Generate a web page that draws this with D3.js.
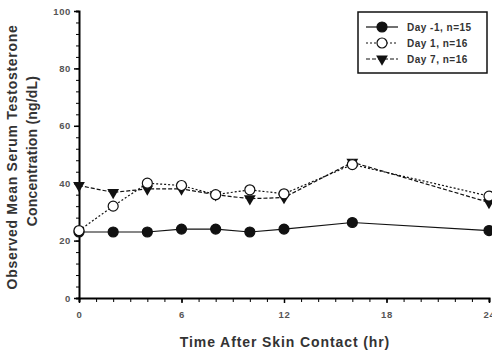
<!DOCTYPE html>
<html>
<head>
<meta charset="utf-8">
<script src="https://cdn.jsdelivr.net/npm/d3@7"></script>
<style>
  body { margin: 0; background: #fff; }
  text { font-family: "Liberation Sans", Arial, sans-serif; }
</style>
</head>
<body>
<div id="chart"></div>
<script>
// time points (hr)
const hours = [0, 2, 4, 6, 8, 10, 12, 16, 24];
const dayM1 = [23, 23, 23, 24, 24, 23, 24, 26.3, 23.5];
const day1 = [23.5, 32, 40, 39.2, 36, 37.7, 36.3, 46.5, 35.5];
const day7 = [39.2, 36.8, 38, 38, 36, 34.6, 35, 47.3, 33.3];
const seriesNames = ["Day -1, n=15", "Day 1, n=16", "Day 7, n=16"];
const xTicks = [0, 6, 12, 18, 24];
const yTicks = [0, 20, 40, 60, 80, 100];

const width = 492, height = 351;
const margin = { left: 79, right: 3, top: 11, bottom: 53 };

const svg = d3.select("#chart")
  .append("svg")
  .attr("width", width)
  .attr("height", height);

const x = d3.scaleLinear().domain([0, 24]).range([margin.left, width - margin.right]);
const y = d3.scaleLinear().domain([0, 100]).range([height - margin.bottom, margin.top]);

const tickText = g => g.selectAll("text")
  .attr("font-size", 9.5).attr("font-weight", "bold")
  .attr("letter-spacing", 0.6).attr("fill", "#555");

// x axis, minor ticks each hour
svg.append("g")
  .attr("transform", `translate(0,${height - margin.bottom})`)
  .call(d3.axisBottom(x).tickValues(d3.range(0, 25, 1)).tickSize(4).tickFormat(""))
  .call(g => g.select(".domain").attr("stroke-width", 2));
svg.append("g")
  .attr("transform", `translate(0,${height - margin.bottom})`)
  .call(d3.axisBottom(x).tickValues(xTicks).tickSize(5).tickPadding(8))
  .call(g => g.select(".domain").remove())
  .call(g => g.selectAll("line").attr("stroke-width", 1.5))
  .call(tickText);

// y axis, minor ticks every 4
svg.append("g")
  .attr("transform", `translate(${margin.left},0)`)
  .call(d3.axisLeft(y).tickValues(d3.range(0, 101, 4)).tickSize(3).tickFormat(""))
  .call(g => g.select(".domain").attr("stroke-width", 2));
svg.append("g")
  .attr("transform", `translate(${margin.left},0)`)
  .call(d3.axisLeft(y).tickValues(yTicks).tickSize(5).tickPadding(3))
  .call(g => g.select(".domain").remove())
  .call(g => g.selectAll("line").attr("stroke-width", 1.5))
  .call(tickText);

// axis titles
svg.append("text")
  .attr("x", 285).attr("y", 347)
  .attr("text-anchor", "middle")
  .attr("font-size", 14).attr("font-weight", "bold")
  .attr("letter-spacing", 0.9).attr("fill", "#333")
  .text("Time After Skin Contact (hr)");

svg.append("text")
  .attr("transform", "translate(17,157) rotate(-90)")
  .attr("text-anchor", "middle")
  .attr("font-size", 14).attr("font-weight", "bold")
  .attr("letter-spacing", 0.7).attr("fill", "#333")
  .text("Observed Mean Serum Testosterone");
svg.append("text")
  .attr("transform", "translate(37,151) rotate(-90)")
  .attr("text-anchor", "middle")
  .attr("font-size", 14).attr("font-weight", "bold")
  .attr("letter-spacing", 0.2).attr("fill", "#333")
  .text("Concentration (ng/dL)");

const line = d3.line().x(d => x(d[0])).y(d => y(d[1]));
const triangle = d3.symbol().type(d3.symbolTriangle).size(60);

const series = [
  { name: seriesNames[0], values: dayM1, dash: null, marker: "filled" },
  { name: seriesNames[1], values: day1, dash: "2,2", marker: "open" },
  { name: seriesNames[2], values: day7, dash: "4,2", marker: "tri" }
];

function drawMarker(g, type, cx, cy) {
  if (type === "tri") {
    g.append("path")
      .attr("d", triangle())
      .attr("transform", `translate(${cx},${cy}) rotate(180)`)
      .attr("fill", "#111");
  } else {
    g.append("circle")
      .attr("cx", cx).attr("cy", cy).attr("r", 5)
      .attr("fill", type === "filled" ? "#111" : "#fff")
      .attr("stroke", "#111").attr("stroke-width", 1.2);
  }
}

// draw lines first, then markers (open circles over)
[series[0], series[2], series[1]].forEach(s => {
  svg.append("path")
    .datum(hours.map((h, i) => [h, s.values[i]]))
    .attr("d", line)
    .attr("fill", "none")
    .attr("stroke", "#111")
    .attr("stroke-width", 1.2)
    .attr("stroke-dasharray", s.dash);
});
[series[0], series[2], series[1]].forEach(s => {
  const g = svg.append("g");
  hours.forEach((h, i) => drawMarker(g, s.marker, x(h), y(s.values[i])));
});

// legend
const legend = svg.append("g");
legend.append("rect")
  .attr("x", 358).attr("y", 12).attr("width", 129).attr("height", 61)
  .attr("fill", "#fff").attr("stroke", "#111").attr("stroke-width", 1.5);
series.forEach((s, i) => {
  const ly = 27 + i * 16;
  legend.append("line")
    .attr("x1", 366).attr("x2", 398).attr("y1", ly).attr("y2", ly)
    .attr("stroke", "#111").attr("stroke-width", 1.2)
    .attr("stroke-dasharray", s.dash);
  drawMarker(legend, s.marker, 382, ly);
  legend.append("text")
    .attr("x", 407).attr("y", ly + 3.5)
    .attr("font-size", 10).attr("font-weight", "bold")
    .attr("letter-spacing", 0.5).attr("fill", "#333")
    .text(s.name);
});
</script>
</body>
</html>
